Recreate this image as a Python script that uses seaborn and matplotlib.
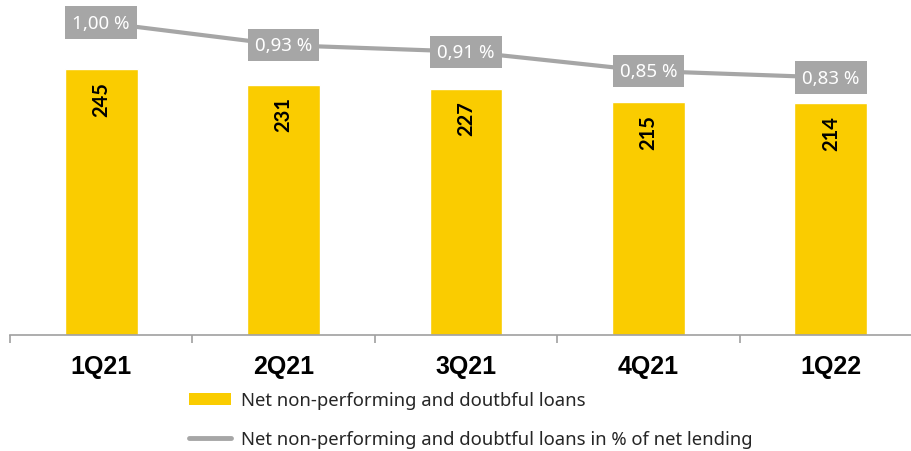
import matplotlib
matplotlib.use("Agg")
import matplotlib.pyplot as plt
from matplotlib.patches import Patch
from matplotlib.lines import Line2D
import seaborn as sns
import pandas as pd

quarters = ["1Q21", "2Q21", "3Q21", "4Q21", "1Q22"]
npl_net = [245, 231, 227, 215, 214]
npl_ratio = [1.00, 0.93, 0.91, 0.85, 0.83]
bar_label_name = "Net non-performing and doutbful loans"
line_label_name = "Net non-performing and doubtful loans in % of net lending"

YELLOW = "#FACC00"
GREY = "#A6A6A6"

sns.set_theme(style="white")
plt.rcParams["font.family"] = ["Noto Sans", "DejaVu Sans"]

df = pd.DataFrame({"quarter": quarters, "npl": npl_net, "ratio": npl_ratio})

fig = plt.figure(figsize=(9.12, 4.52), dpi=100)
W, H = 912, 452
ax = fig.add_axes([10 / W, 116.5 / H, 912 / W, 324.6 / H])

sns.barplot(data=df, x="quarter", y="npl", color=YELLOW, width=0.4,
            saturation=1, ax=ax)
ax.set_ylim(0, 300)
ax.set_xlim(-0.5, len(quarters) - 0.5)

for i, v in enumerate(npl_net):
    ax.annotate(f"{v}", (i, v), xytext=(0, -8.5), textcoords="offset points",
                rotation=90, ha="center", va="top", fontsize=14.5,
                fontweight="bold", color="black",
                family=["Lato", "DejaVu Sans"])

ax2 = ax.twinx()
sns.lineplot(x=list(range(len(quarters))), y=npl_ratio, color=GREY,
             linewidth=3, ax=ax2, sort=False)
ax2.set_ylim(0.0355, 1.039)
ax2.set_yticks([])
ax2.set_ylabel("")
for i, r in enumerate(npl_ratio):
    ax2.annotate(f"{r:.2f} %".replace(".", ","), (i, r), ha="center",
                 va="center", fontsize=13.5, color="white",
                 bbox=dict(boxstyle="square,pad=0.38", fc=GREY, ec="none"))

# Axes styling
for a in (ax, ax2):
    for s in ("left", "right", "top"):
        a.spines[s].set_visible(False)
ax2.spines["bottom"].set_visible(False)
ax.spines["bottom"].set_color("#A0A0A0")
ax.spines["bottom"].set_linewidth(1.2)
ax.set_yticks([])
ax.set_ylabel("")
ax.set_xlabel("")
ax.set_xticks(range(len(quarters)))
ax.set_xticklabels(quarters)
plt.setp(ax.get_xticklabels(), fontsize=18, fontweight="bold",
         fontfamily="Liberation Sans", color="black")
ax.tick_params(axis="x", which="major", length=0, pad=14)
ax.set_xticks([i - 0.5 for i in range(len(quarters) + 1)], minor=True)
ax.tick_params(axis="x", which="minor", length=6, width=1.2,
               color="#A0A0A0", bottom=True)

handles = [Patch(facecolor=YELLOW, edgecolor="none", label=bar_label_name),
           Line2D([0], [0], color=GREY, linewidth=3.5, label=line_label_name)]
fig.legend(handles=handles, loc="upper left",
           bbox_to_anchor=(182 / W, 1 - 385 / H), frameon=False,
           fontsize=13.3, handlelength=2.25, handleheight=0.65,
           handletextpad=0.55, labelspacing=1.12, borderaxespad=0)

fig.savefig("out.png", dpi=100)
